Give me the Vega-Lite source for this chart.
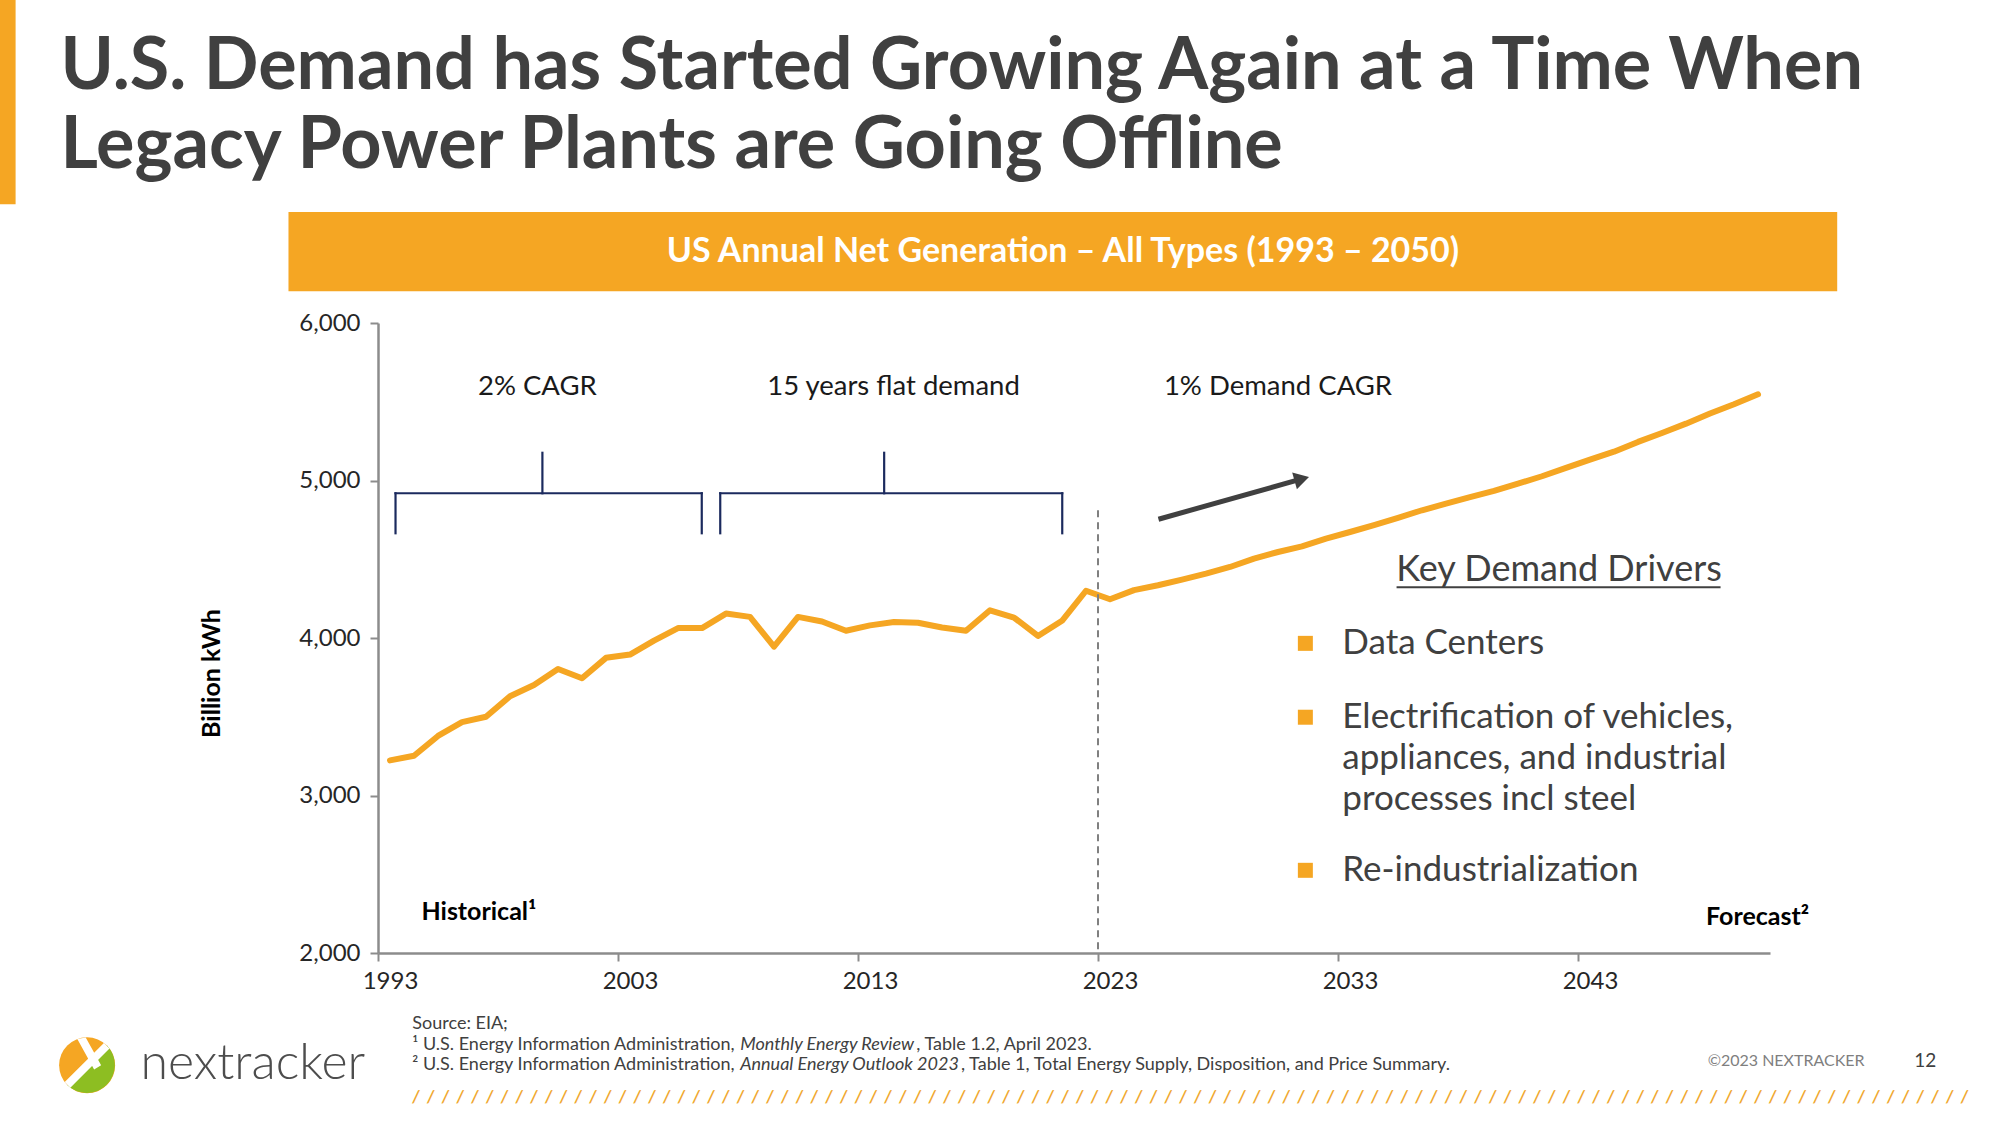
{
  "$schema": "https://vega.github.io/schema/vega-lite/v6.json",
  "width": 1392,
  "height": 630,
  "autosize": {"type": "none"},
  "padding": {"left": 378, "top": 323, "right": 230, "bottom": 172},
  "background": "white",
  "config": {"view": {"stroke": null}, "font": "Lato"},
  "resolve": {"axis": {"x": "independent", "y": "independent"}},
  "datasets": {
    "gen": [
      {"year": 1993, "value": 3223}, {"year": 1994, "value": 3252}, {"year": 1995, "value": 3378},
      {"year": 1996, "value": 3466}, {"year": 1997, "value": 3500}, {"year": 1998, "value": 3630},
      {"year": 1999, "value": 3702}, {"year": 2000, "value": 3803}, {"year": 2001, "value": 3744},
      {"year": 2002, "value": 3874}, {"year": 2003, "value": 3895}, {"year": 2004, "value": 3983},
      {"year": 2005, "value": 4063}, {"year": 2006, "value": 4063}, {"year": 2007, "value": 4155},
      {"year": 2008, "value": 4134}, {"year": 2009, "value": 3945}, {"year": 2010, "value": 4134},
      {"year": 2011, "value": 4105}, {"year": 2012, "value": 4046}, {"year": 2013, "value": 4080},
      {"year": 2014, "value": 4101}, {"year": 2015, "value": 4097}, {"year": 2016, "value": 4067},
      {"year": 2017, "value": 4046}, {"year": 2018, "value": 4176}, {"year": 2019, "value": 4130},
      {"year": 2020, "value": 4013}, {"year": 2021, "value": 4109}, {"year": 2022, "value": 4300},
      {"year": 2023, "value": 4246}, {"year": 2024, "value": 4304}, {"year": 2025, "value": 4335},
      {"year": 2026, "value": 4371}, {"year": 2027, "value": 4409}, {"year": 2028, "value": 4451},
      {"year": 2029, "value": 4504}, {"year": 2030, "value": 4546}, {"year": 2031, "value": 4582},
      {"year": 2032, "value": 4631}, {"year": 2033, "value": 4673}, {"year": 2034, "value": 4716},
      {"year": 2035, "value": 4762}, {"year": 2036, "value": 4811}, {"year": 2037, "value": 4853},
      {"year": 2038, "value": 4895}, {"year": 2039, "value": 4934}, {"year": 2040, "value": 4980},
      {"year": 2041, "value": 5027}, {"year": 2042, "value": 5080}, {"year": 2043, "value": 5133},
      {"year": 2044, "value": 5183}, {"year": 2045, "value": 5245}, {"year": 2046, "value": 5302},
      {"year": 2047, "value": 5361}, {"year": 2048, "value": 5425}, {"year": 2049, "value": 5484},
      {"year": 2050, "value": 5547}
    ],
    "leftbar": [{"x": 1976.4, "x2": 1977.4, "y": 8200, "y2": 6754}],
    "titletext": [
      {"x": 1979.27, "y": 7484, "text": "U.S. Demand has Started Growing Again at a Time When"},
      {"x": 1979.27, "y": 6982, "text": "Legacy Power Plants are Going Offline"}
    ],
    "header": [{"x": 1988.77, "x2": 2053.3, "y": 6705, "y2": 6202}],
    "headertext": [{"x": 2021.04, "y": 6453, "text": "US Annual Net Generation – All Types (1993 – 2050)"}],
    "divider": [{"x": 2022.5, "y": 4811, "y2": 2000}],
    "brackets": [
      {"x": 1993.23, "x2": 1993.23, "y": 4665, "y2": 4919},
      {"x": 1993.23, "x2": 2005.99, "y": 4919, "y2": 4919},
      {"x": 2005.99, "x2": 2005.99, "y": 4919, "y2": 4665},
      {"x": 1999.35, "x2": 1999.35, "y": 4919, "y2": 5176},
      {"x": 2006.76, "x2": 2006.76, "y": 4665, "y2": 4919},
      {"x": 2006.76, "x2": 2021.01, "y": 4919, "y2": 4919},
      {"x": 2021.01, "x2": 2021.01, "y": 4919, "y2": 4665},
      {"x": 2013.59, "x2": 2013.59, "y": 4919, "y2": 5176}
    ],
    "arrow": [{"x": 2025.02, "y": 4754, "x2": 2030.99, "y2": 5010}],
    "arrowhead": [{"x": 2030.99, "y": 5010}],
    "notes": [
      {"x": 1999.14, "y": 5595, "text": "2% CAGR"},
      {"x": 2013.98, "y": 5595, "text": "15 years flat demand"},
      {"x": 2030.0, "y": 5595, "text": "1% Demand CAGR"}
    ],
    "historical": [{"x": 1994.31, "y": 2258, "text": "Historical¹"}],
    "forecast": [{"x": 2052.13, "y": 2227, "text": "Forecast²"}],
    "drivershead": [{"x": 2041.71, "y": 4430, "text": "Key Demand Drivers"}],
    "underline": [{"x": 2034.94, "x2": 2048.44, "y": 4322}],
    "bullets": [{"x": 2031.14, "y": 3966}, {"x": 2031.14, "y": 3497}, {"x": 2031.14, "y": 2525}],
    "bullettext": [
      {"x": 2032.68, "y": 3966, "text": "Data Centers"},
      {"x": 2032.68, "y": 3497, "text": "Electrification of vehicles,"},
      {"x": 2032.68, "y": 3239, "text": "appliances, and industrial"},
      {"x": 2032.68, "y": 2979, "text": "processes incl steel"},
      {"x": 2032.68, "y": 2525, "text": "Re-industrialization"}
    ],
    "footer": [
      {"x": 1993.93, "y": 1547, "text": "Source: EIA;"},
      {"x": 1993.93, "y": 1416, "text": "¹ U.S. Energy Information Administration,"},
      {"x": 1993.93, "y": 1287, "text": "² U.S. Energy Information Administration,"},
      {"x": 2014.93, "y": 1416, "text": ", Table 1.2, April 2023."},
      {"x": 2016.79, "y": 1287, "text": ", Table 1, Total Energy Supply, Disposition, and Price Summary."}
    ],
    "footeritalic": [
      {"x": 2007.59, "y": 1416, "text": "Monthly Energy Review"},
      {"x": 2007.59, "y": 1287, "text": "Annual Energy Outlook 2023"}
    ],
    "copyright": [{"x": 2051.17, "y": 1312, "text": "©2023 NEXTRACKER"}],
    "pagenum": [{"x": 2056.97, "y": 1312, "text": "12"}],
    "hatch": [{"x": 1993.93, "y": 1084, "text": "/\u00a0\u00a0/\u00a0\u00a0/\u00a0\u00a0/\u00a0\u00a0/\u00a0\u00a0/\u00a0\u00a0/\u00a0\u00a0/\u00a0\u00a0/\u00a0\u00a0/\u00a0\u00a0/\u00a0\u00a0/\u00a0\u00a0/\u00a0\u00a0/\u00a0\u00a0/\u00a0\u00a0/\u00a0\u00a0/\u00a0\u00a0/\u00a0\u00a0/\u00a0\u00a0/\u00a0\u00a0/\u00a0\u00a0/\u00a0\u00a0/\u00a0\u00a0/\u00a0\u00a0/\u00a0\u00a0/\u00a0\u00a0/\u00a0\u00a0/\u00a0\u00a0/\u00a0\u00a0/\u00a0\u00a0/\u00a0\u00a0/\u00a0\u00a0/\u00a0\u00a0/\u00a0\u00a0/\u00a0\u00a0/\u00a0\u00a0/\u00a0\u00a0/\u00a0\u00a0/\u00a0\u00a0/\u00a0\u00a0/\u00a0\u00a0/\u00a0\u00a0/\u00a0\u00a0/\u00a0\u00a0/\u00a0\u00a0/\u00a0\u00a0/\u00a0\u00a0/\u00a0\u00a0/\u00a0\u00a0/\u00a0\u00a0/\u00a0\u00a0/\u00a0\u00a0/\u00a0\u00a0/\u00a0\u00a0/\u00a0\u00a0/\u00a0\u00a0/\u00a0\u00a0/\u00a0\u00a0/\u00a0\u00a0/\u00a0\u00a0/\u00a0\u00a0/\u00a0\u00a0/\u00a0\u00a0/\u00a0\u00a0/\u00a0\u00a0/\u00a0\u00a0/\u00a0\u00a0/\u00a0\u00a0/\u00a0\u00a0/\u00a0\u00a0/\u00a0\u00a0/\u00a0\u00a0/\u00a0\u00a0/\u00a0\u00a0/\u00a0\u00a0/\u00a0\u00a0/\u00a0\u00a0/\u00a0\u00a0/\u00a0\u00a0/\u00a0\u00a0/\u00a0\u00a0/\u00a0\u00a0/\u00a0\u00a0/\u00a0\u00a0/\u00a0\u00a0/\u00a0\u00a0/\u00a0\u00a0/\u00a0\u00a0/\u00a0\u00a0/\u00a0\u00a0/\u00a0\u00a0/\u00a0\u00a0/\u00a0\u00a0/\u00a0\u00a0/\u00a0\u00a0/\u00a0\u00a0/\u00a0\u00a0/\u00a0\u00a0/\u00a0\u00a0/\u00a0\u00a0/\u00a0\u00a0/\u00a0\u00a0/\u00a0\u00a0/\u00a0\u00a0/\u00a0\u00a0/"}],
    "logo": [{"x": 1980.38, "y": 1287}],
    "logotext": [{"x": 1982.6, "y": 1198, "text": "nextracker"}]
  },
  "layer": [
    {
      "data": {"name": "gen"},
      "mark": {"type": "line", "color": "#F5A623", "strokeWidth": 6, "strokeCap": "round", "strokeJoin": "round"},
      "encoding": {
        "x": {
          "field": "year", "type": "quantitative",
          "scale": {"domain": [1992.5, 2050.5], "nice": false, "zero": false},
          "axis": {
            "values": [1993, 2003, 2013, 2023, 2033, 2043], "format": "d", "title": null, "grid": false,
            "tickOffset": -12, "labelOffset": 12, "labelFlush": false, "labelFontSize": 24, "labelColor": "#262626", "labelPadding": 8,
            "tickSize": 8, "tickColor": "#8c8c8c", "tickWidth": 2, "domainColor": "#8c8c8c", "domainWidth": 2.5
          }
        },
        "y": {
          "field": "value", "type": "quantitative",
          "scale": {"domain": [2000, 6000], "nice": false, "zero": false},
          "axis": {
            "values": [2000, 3000, 4000, 5000, 6000], "format": ",.0f", "grid": false, "labelFlush": false,
            "labelFontSize": 24, "labelColor": "#262626", "labelPadding": 10,
            "tickSize": 8, "tickColor": "#8c8c8c", "tickWidth": 2, "domainColor": "#8c8c8c", "domainWidth": 2.5,
            "title": "Billion kWh", "titleFontSize": 25, "titleFontWeight": "bold", "titleColor": "#000000",
            "titleX": -167, "titleY": 350, "titleAngle": -90, "titleAlign": "center", "titleBaseline": "middle"
          }
        }
      }
    },
    {
      "data": {"name": "leftbar"},
      "mark": {"type": "rect", "color": "#F5A623"},
      "encoding": {
        "x": {"field": "x", "type": "quantitative", "axis": null},
        "x2": {"field": "x2"},
        "y": {"field": "y", "type": "quantitative", "axis": null},
        "y2": {"field": "y2"}
      }
    },
    {
      "data": {"name": "titletext"},
      "mark": {"type": "text", "align": "left", "baseline": "alphabetic", "fontSize": 72, "fontWeight": "bold", "color": "#404040"},
      "encoding": {
        "x": {"field": "x", "type": "quantitative", "axis": null},
        "y": {"field": "y", "type": "quantitative", "axis": null},
        "text": {"field": "text"}
      }
    },
    {
      "data": {"name": "header"},
      "mark": {"type": "rect", "color": "#F5A623"},
      "encoding": {
        "x": {"field": "x", "type": "quantitative", "axis": null},
        "x2": {"field": "x2"},
        "y": {"field": "y", "type": "quantitative", "axis": null},
        "y2": {"field": "y2"}
      }
    },
    {
      "data": {"name": "headertext"},
      "mark": {"type": "text", "align": "center", "baseline": "middle", "fontSize": 34, "fontWeight": "bold", "color": "#ffffff"},
      "encoding": {
        "x": {"field": "x", "type": "quantitative", "axis": null},
        "y": {"field": "y", "type": "quantitative", "axis": null},
        "text": {"field": "text"}
      }
    },
    {
      "data": {"name": "divider"},
      "mark": {"type": "rule", "color": "#808080", "strokeWidth": 2, "strokeDash": [7, 5]},
      "encoding": {
        "x": {"field": "x", "type": "quantitative", "axis": null},
        "y": {"field": "y", "type": "quantitative", "axis": null},
        "y2": {"field": "y2"}
      }
    },
    {
      "data": {"name": "brackets"},
      "mark": {"type": "rule", "color": "#1B2A5E", "strokeWidth": 2.2, "strokeCap": "square"},
      "encoding": {
        "x": {"field": "x", "type": "quantitative", "axis": null},
        "x2": {"field": "x2"},
        "y": {"field": "y", "type": "quantitative", "axis": null},
        "y2": {"field": "y2"}
      }
    },
    {
      "data": {"name": "arrow"},
      "mark": {"type": "rule", "color": "#404040", "strokeWidth": 5},
      "encoding": {
        "x": {"field": "x", "type": "quantitative", "axis": null},
        "x2": {"field": "x2"},
        "y": {"field": "y", "type": "quantitative", "axis": null},
        "y2": {"field": "y2"}
      }
    },
    {
      "data": {"name": "arrowhead"},
      "mark": {"type": "point", "shape": "triangle-right", "angle": 344.3, "size": 300, "filled": true, "color": "#404040", "opacity": 1},
      "encoding": {
        "x": {"field": "x", "type": "quantitative", "axis": null},
        "y": {"field": "y", "type": "quantitative", "axis": null}
      }
    },
    {
      "data": {"name": "notes"},
      "mark": {"type": "text", "align": "center", "baseline": "middle", "fontSize": 27.5, "color": "#1a1a1a"},
      "encoding": {
        "x": {"field": "x", "type": "quantitative", "axis": null},
        "y": {"field": "y", "type": "quantitative", "axis": null},
        "text": {"field": "text"}
      }
    },
    {
      "data": {"name": "historical"},
      "mark": {"type": "text", "align": "left", "baseline": "middle", "fontSize": 25, "fontWeight": "bold", "color": "#000000"},
      "encoding": {
        "x": {"field": "x", "type": "quantitative", "axis": null},
        "y": {"field": "y", "type": "quantitative", "axis": null},
        "text": {"field": "text"}
      }
    },
    {
      "data": {"name": "forecast"},
      "mark": {"type": "text", "align": "right", "baseline": "middle", "fontSize": 25, "fontWeight": "bold", "color": "#000000"},
      "encoding": {
        "x": {"field": "x", "type": "quantitative", "axis": null},
        "y": {"field": "y", "type": "quantitative", "axis": null},
        "text": {"field": "text"}
      }
    },
    {
      "data": {"name": "drivershead"},
      "mark": {"type": "text", "align": "center", "baseline": "middle", "fontSize": 36, "color": "#404040"},
      "encoding": {
        "x": {"field": "x", "type": "quantitative", "axis": null},
        "y": {"field": "y", "type": "quantitative", "axis": null},
        "text": {"field": "text"}
      }
    },
    {
      "data": {"name": "underline"},
      "mark": {"type": "rule", "color": "#404040", "strokeWidth": 2},
      "encoding": {
        "x": {"field": "x", "type": "quantitative", "axis": null},
        "x2": {"field": "x2"},
        "y": {"field": "y", "type": "quantitative", "axis": null}
      }
    },
    {
      "data": {"name": "bullets"},
      "mark": {"type": "point", "shape": "square", "size": 225, "filled": true, "color": "#F5A623", "opacity": 1},
      "encoding": {
        "x": {"field": "x", "type": "quantitative", "axis": null},
        "y": {"field": "y", "type": "quantitative", "axis": null}
      }
    },
    {
      "data": {"name": "bullettext"},
      "mark": {"type": "text", "align": "left", "baseline": "middle", "fontSize": 35, "color": "#404040"},
      "encoding": {
        "x": {"field": "x", "type": "quantitative", "axis": null},
        "y": {"field": "y", "type": "quantitative", "axis": null},
        "text": {"field": "text"}
      }
    },
    {
      "data": {"name": "footer"},
      "mark": {"type": "text", "align": "left", "baseline": "middle", "fontSize": 18, "color": "#404040"},
      "encoding": {
        "x": {"field": "x", "type": "quantitative", "axis": null},
        "y": {"field": "y", "type": "quantitative", "axis": null},
        "text": {"field": "text"}
      }
    },
    {
      "data": {"name": "footeritalic"},
      "mark": {"type": "text", "align": "left", "baseline": "middle", "fontSize": 18, "fontStyle": "italic", "color": "#404040"},
      "encoding": {
        "x": {"field": "x", "type": "quantitative", "axis": null},
        "y": {"field": "y", "type": "quantitative", "axis": null},
        "text": {"field": "text"}
      }
    },
    {
      "data": {"name": "copyright"},
      "mark": {"type": "text", "align": "center", "baseline": "middle", "fontSize": 16, "color": "#7f7f7f"},
      "encoding": {
        "x": {"field": "x", "type": "quantitative", "axis": null},
        "y": {"field": "y", "type": "quantitative", "axis": null},
        "text": {"field": "text"}
      }
    },
    {
      "data": {"name": "pagenum"},
      "mark": {"type": "text", "align": "center", "baseline": "middle", "fontSize": 19, "color": "#404040"},
      "encoding": {
        "x": {"field": "x", "type": "quantitative", "axis": null},
        "y": {"field": "y", "type": "quantitative", "axis": null},
        "text": {"field": "text"}
      }
    },
    {
      "data": {"name": "hatch"},
      "mark": {"type": "text", "align": "left", "baseline": "middle", "fontSize": 17, "fontWeight": "bold", "fontStyle": "italic", "color": "#F0A830"},
      "encoding": {
        "x": {"field": "x", "type": "quantitative", "axis": null},
        "y": {"field": "y", "type": "quantitative", "axis": null},
        "text": {"field": "text"}
      }
    },
    {
      "data": {"name": "logo"},
      "mark": {"type": "point", "shape": "circle", "size": 3136, "filled": true, "color": "#F5A623", "opacity": 1},
      "encoding": {
        "x": {"field": "x", "type": "quantitative", "axis": null},
        "y": {"field": "y", "type": "quantitative", "axis": null}
      }
    },
    {
      "data": {"name": "logo"},
      "mark": {"type": "point", "shape": "M 0.707 -0.707 A 1 1 0 0 1 -0.707 0.707 Z", "size": 3136, "filled": true, "color": "#8DBE22", "opacity": 1},
      "encoding": {
        "x": {"field": "x", "type": "quantitative", "axis": null},
        "y": {"field": "y", "type": "quantitative", "axis": null}
      }
    },
    {
      "data": {"name": "logo"},
      "mark": {"type": "point", "shape": "M 0.6 -0.8 L 0.8 -0.6 L -0.6 0.8 L -0.8 0.6 Z M -0.35 -0.94 L -0.05 -0.99 L 0.5 0.0 L 0.25 0.15 Z", "size": 3136, "filled": true, "color": "#ffffff", "opacity": 1},
      "encoding": {
        "x": {"field": "x", "type": "quantitative", "axis": null},
        "y": {"field": "y", "type": "quantitative", "axis": null}
      }
    },
    {
      "data": {"name": "logotext"},
      "mark": {"type": "text", "align": "left", "baseline": "alphabetic", "fontSize": 50, "fontWeight": 300, "color": "#4d4d4d"},
      "encoding": {
        "x": {"field": "x", "type": "quantitative", "axis": null},
        "y": {"field": "y", "type": "quantitative", "axis": null},
        "text": {"field": "text"}
      }
    }
  ]
}
